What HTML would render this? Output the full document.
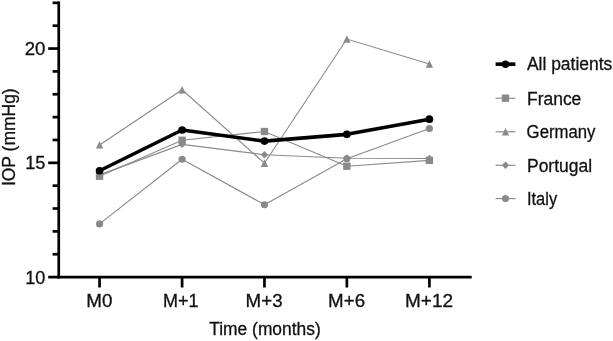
<!DOCTYPE html>
<html lang="en"><head><meta charset="utf-8"><title>IOP over time</title>
<style>
html,body{margin:0;padding:0;background:#fff;}
svg{display:block;}
text{font-family:"Liberation Sans",Arial,Helvetica,sans-serif;fill:#111;}
</style></head><body>
<svg width="613" height="341" viewBox="0 0 613 341">
<rect width="613" height="341" fill="#fff"/>
<g fill="none" stroke="#8a8a8a" stroke-width="1.15" stroke-linejoin="round">
<polyline points="99.55,223.90 182.10,159.20 264.45,204.70 346.85,158.70 429.40,128.50"/>
</g>
<circle cx="99.55" cy="223.90" r="3.55" fill="#8a8a8a"/>
<circle cx="182.10" cy="159.20" r="3.55" fill="#8a8a8a"/>
<circle cx="264.45" cy="204.70" r="3.55" fill="#8a8a8a"/>
<circle cx="346.85" cy="158.70" r="3.55" fill="#8a8a8a"/>
<circle cx="429.40" cy="128.50" r="3.55" fill="#8a8a8a"/>
<polyline fill="none" stroke="#8a8a8a" stroke-width="1.15" points="99.55,174.90 182.10,144.40 264.45,154.70 346.85,158.30 429.40,158.50"/>
<polygon points="99.55,171.20 103.20,174.90 99.55,178.60 95.90,174.90" fill="#8a8a8a"/>
<polygon points="182.10,140.70 185.75,144.40 182.10,148.10 178.45,144.40" fill="#8a8a8a"/>
<polygon points="264.45,151.00 268.10,154.70 264.45,158.40 260.80,154.70" fill="#8a8a8a"/>
<polygon points="346.85,154.60 350.50,158.30 346.85,162.00 343.20,158.30" fill="#8a8a8a"/>
<polygon points="429.40,154.80 433.05,158.50 429.40,162.20 425.75,158.50" fill="#8a8a8a"/>
<polyline fill="none" stroke="#8a8a8a" stroke-width="1.15" points="99.55,144.90 182.10,89.80 264.45,163.20 346.85,39.05 429.40,64.00"/>
<polygon points="99.55,141.20 103.25,148.60 95.85,148.60" fill="#8a8a8a"/>
<polygon points="182.10,86.10 185.80,93.50 178.40,93.50" fill="#8a8a8a"/>
<polygon points="264.45,159.50 268.15,166.90 260.75,166.90" fill="#8a8a8a"/>
<polygon points="346.85,35.35 350.55,42.75 343.15,42.75" fill="#8a8a8a"/>
<polygon points="429.40,60.30 433.10,67.70 425.70,67.70" fill="#8a8a8a"/>
<polyline fill="none" stroke="#8a8a8a" stroke-width="1.15" points="99.55,176.20 182.10,140.30 264.45,131.50 346.85,166.20 429.40,160.40"/>
<rect x="95.85" y="172.50" width="7.4" height="7.4" fill="#8a8a8a"/>
<rect x="178.40" y="136.60" width="7.4" height="7.4" fill="#8a8a8a"/>
<rect x="260.75" y="127.80" width="7.4" height="7.4" fill="#8a8a8a"/>
<rect x="343.15" y="162.50" width="7.4" height="7.4" fill="#8a8a8a"/>
<rect x="425.70" y="156.70" width="7.4" height="7.4" fill="#8a8a8a"/>
<polyline fill="none" stroke="#000" stroke-width="3.6" stroke-linejoin="round" points="99.55,170.75 182.10,130.00 264.45,141.10 346.85,134.35 429.40,119.20"/>
<circle cx="99.55" cy="170.75" r="3.85" fill="#000"/>
<circle cx="182.10" cy="130.00" r="3.85" fill="#000"/>
<circle cx="264.45" cy="141.10" r="3.85" fill="#000"/>
<circle cx="346.85" cy="134.35" r="3.85" fill="#000"/>
<circle cx="429.40" cy="119.20" r="3.85" fill="#000"/>
<g stroke="#000" stroke-width="2.7" fill="none" stroke-linecap="butt">
<path d="M58.75,1.42 V278.45000000000005"/>
<path d="M57.4,277.1 H471.7"/>
<path d="M48.20,277.10 H58.75"/>
<path d="M52.60,254.25 H58.75"/>
<path d="M52.60,231.39 H58.75"/>
<path d="M52.60,208.54 H58.75"/>
<path d="M52.60,185.68 H58.75"/>
<path d="M48.20,162.83 H58.75"/>
<path d="M52.60,139.97 H58.75"/>
<path d="M52.60,117.12 H58.75"/>
<path d="M52.60,94.26 H58.75"/>
<path d="M52.60,71.41 H58.75"/>
<path d="M48.20,48.55 H58.75"/>
<path d="M52.60,25.70 H58.75"/>
<path d="M52.60,2.84 H58.75"/>
<path d="M99.55,277.10 V287.5"/>
<path d="M182.10,277.10 V287.5"/>
<path d="M264.45,277.10 V287.5"/>
<path d="M346.85,277.10 V287.5"/>
<path d="M429.40,277.10 V287.5"/>
</g>
<text x="24.71" y="54.65" font-size="18.9" stroke="#111" stroke-width="0.3" textLength="20.77" lengthAdjust="spacingAndGlyphs">20</text>
<text x="25.26" y="169.05" font-size="18.9" stroke="#111" stroke-width="0.3" textLength="20.25" lengthAdjust="spacingAndGlyphs">15</text>
<text x="25.27" y="283.60" font-size="18.9" stroke="#111" stroke-width="0.3" textLength="20.19" lengthAdjust="spacingAndGlyphs">10</text>
<text x="86.30" y="306.70" font-size="18.9" stroke="#111" stroke-width="0.3" textLength="26.18" lengthAdjust="spacingAndGlyphs">M0</text>
<text x="162.97" y="306.70" font-size="18.9" stroke="#111" stroke-width="0.3" textLength="35.56" lengthAdjust="spacingAndGlyphs">M+1</text>
<text x="245.61" y="306.70" font-size="18.9" stroke="#111" stroke-width="0.3" textLength="36.96" lengthAdjust="spacingAndGlyphs">M+3</text>
<text x="328.11" y="306.70" font-size="18.9" stroke="#111" stroke-width="0.3" textLength="36.96" lengthAdjust="spacingAndGlyphs">M+6</text>
<text x="404.99" y="306.70" font-size="18.9" stroke="#111" stroke-width="0.3" textLength="48.12" lengthAdjust="spacingAndGlyphs">M+12</text>
<text x="209.26" y="335.00" font-size="18.3" stroke="#111" stroke-width="0.3" textLength="111.46" lengthAdjust="spacingAndGlyphs">Time (months)</text>
<text x="-1.46" y="0.00" font-size="18.3" stroke="#111" stroke-width="0.3" textLength="97.79" lengthAdjust="spacingAndGlyphs" transform="translate(14.75,184.65) rotate(-90)">IOP (mmHg)</text>
<path d="M495.6,64.15 H515.4" stroke="#000" stroke-width="3.6"/>
<circle cx="505.50" cy="64.15" r="3.75" fill="#000"/>
<path d="M495.6,98.2 H515.4" stroke="#8a8a8a" stroke-width="1.15"/>
<path d="M495.6,131.8 H515.4" stroke="#8a8a8a" stroke-width="1.15"/>
<path d="M495.6,165.3 H515.4" stroke="#8a8a8a" stroke-width="1.15"/>
<path d="M495.6,198.6 H515.4" stroke="#8a8a8a" stroke-width="1.15"/>
<rect x="501.80" y="94.50" width="7.4" height="7.4" fill="#8a8a8a"/>
<polygon points="505.50,128.10 509.20,135.50 501.80,135.50" fill="#8a8a8a"/>
<polygon points="505.50,161.60 509.15,165.30 505.50,169.00 501.85,165.30" fill="#8a8a8a"/>
<circle cx="505.50" cy="198.60" r="3.55" fill="#8a8a8a"/>
<text x="526.92" y="70.45" font-size="18.3" stroke="#111" stroke-width="0.3" textLength="85.36" lengthAdjust="spacingAndGlyphs">All patients</text>
<text x="527.02" y="104.50" font-size="18.3" stroke="#111" stroke-width="0.3" textLength="54.31" lengthAdjust="spacingAndGlyphs">France</text>
<text x="526.61" y="138.10" font-size="18.3" stroke="#111" stroke-width="0.3" textLength="68.88" lengthAdjust="spacingAndGlyphs">Germany</text>
<text x="527.02" y="171.60" font-size="18.3" stroke="#111" stroke-width="0.3" textLength="65.00" lengthAdjust="spacingAndGlyphs">Portugal</text>
<text x="526.93" y="204.90" font-size="18.3" stroke="#111" stroke-width="0.3" textLength="30.25" lengthAdjust="spacingAndGlyphs">Italy</text>
</svg></body></html>
